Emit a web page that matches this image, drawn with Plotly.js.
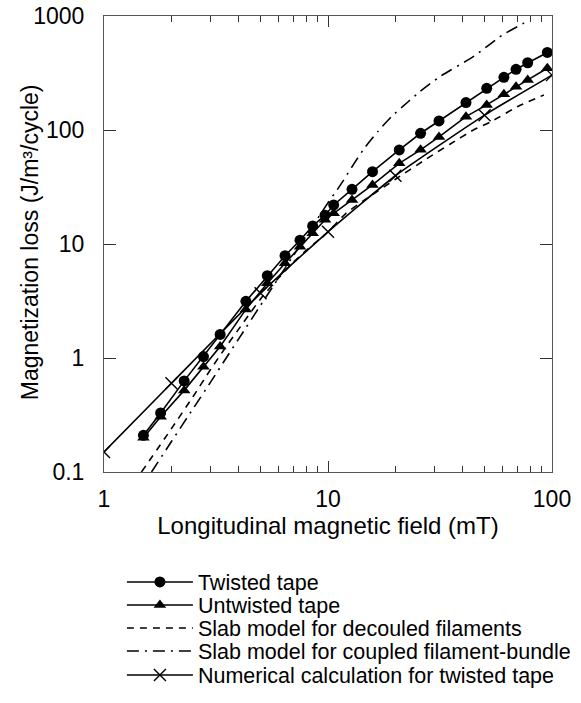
<!DOCTYPE html>
<html>
<head>
<meta charset="utf-8">
<script src="https://cdn.plot.ly/plotly-3.0.1.min.js"></script>
<style>html,body{margin:0;padding:0;background:#fff;}#chart{width:581px;height:703px;}</style>
</head>
<body>
<div id="chart"></div>
<script>
// Measured fields (mT) for the tapes
const fieldTape = [1.5, 1.79, 2.28, 2.78, 3.3, 4.3, 5.36, 6.43, 7.5, 8.54, 9.7, 10.6, 12.8, 15.8, 20.8, 25.9, 31.3, 41.3, 51.1, 61.0, 69.1, 77.9, 95.3];
const lossTwisted = [0.21, 0.33, 0.63, 1.03, 1.61, 3.14, 5.27, 7.9, 10.8, 14.4, 17.9, 22.0, 30.2, 43.1, 66.8, 93.6, 120, 174, 232, 290, 341, 389, 479];
const lossUntwisted = [0.2, 0.305, 0.52, 0.84, 1.26, 2.67, 4.52, 6.77, 9.47, 12.4, 16.3, 18.6, 24.3, 33, 51, 67, 87, 131, 166, 206, 240, 275, 348];

// Slab model, decoupled filaments
const fieldDecoupled = [1.47, 2, 2.5, 3, 3.5, 4, 5, 6, 7, 8, 10, 12, 14.4, 20, 27.6, 35, 44.6, 52.9, 70, 92];
const lossDecoupled = [0.1, 0.24, 0.46, 0.8, 1.25, 1.8, 3.3, 5.0, 6.9, 8.8, 12.8, 18.5, 24, 37, 56, 75, 100, 117, 160, 203];

// Slab model, coupled filament-bundle
const fieldCoupled = [1.63, 2, 2.5, 3, 3.5, 4, 5, 6, 7, 8, 9, 10, 11, 11.7, 13, 14.6, 16.7, 19.2, 22.8, 25.7, 31.6, 44.5, 60, 74.5, 78];
const lossCoupled = [0.1, 0.185, 0.36, 0.62, 0.99, 1.48, 2.9, 5.0, 7.9, 11.8, 16.8, 23, 30, 36, 50, 70, 97, 131, 177, 217, 294, 440, 680, 861, 910];

// Numerical calculation for twisted tape
const fieldNumerical = [1, 2, 5, 10, 20, 50, 100];
const lossNumerical = [0.15, 0.6, 3.7, 12.8, 39.7, 135, 303];

const seriesNames = ["Twisted tape", "Untwisted tape", "Slab model for decouled filaments", "Slab model for coupled filament-bundle", "Numerical calculation for twisted tape"];

const xMajor = [1, 10, 100];
const xMajorText = ["1", "10", "100"];
const xMinor = [2, 3, 4, 5, 6, 7, 8, 9, 20, 30, 40, 50, 60, 70, 80, 90];
const yMajor = [0.1, 1, 10, 100, 1000];
const yMajorText = ["0.1", "1", "10", "100", "1000"];
const yTitle = "Magnetization loss (J/m³/cycle)";

const FONT = "Liberation Sans, Arial, Helvetica, sans-serif";
const legendIds = ["legend", "legend2", "legend3", "legend4", "legend5"];
const legendRowY = [-0.2412, -0.2917, -0.3421, -0.3925, -0.4452];

const traces = [
  {x: fieldTape, y: lossTwisted, name: seriesNames[0], mode: "lines+markers",
   line: {color: "#000", width: 1.6}, marker: {symbol: "circle", size: 11, color: "#000"}},
  {x: fieldTape, y: lossUntwisted, name: seriesNames[1], mode: "lines+markers",
   line: {color: "#000", width: 1.6}, marker: {symbol: "triangle-up", size: 11, color: "#000"}},
  {x: fieldDecoupled, y: lossDecoupled, name: seriesNames[2], mode: "lines",
   line: {color: "#000", width: 1.6, dash: "7px,6px", shape: "spline", smoothing: 0.6}},
  {x: fieldCoupled, y: lossCoupled, name: seriesNames[3], mode: "lines",
   line: {color: "#000", width: 1.6, dash: "12px,6px,2px,6px", shape: "spline", smoothing: 0.6}},
  {x: fieldNumerical, y: lossNumerical, name: seriesNames[4], mode: "lines+markers",
   line: {color: "#000", width: 1.6, shape: "spline", smoothing: 0.5},
   marker: {symbol: "x-thin-open", size: 12, color: "#000", line: {width: 1.4, color: "#000"}}}
];
traces.forEach((t, i) => { t.legend = legendIds[i]; });

const layout = {
  width: 581, height: 703,
  margin: {l: 104, r: 29, t: 16, b: 231, autoexpand: false},
  paper_bgcolor: "#fff", plot_bgcolor: "#fff",
  font: {family: FONT, color: "#000", size: 20},
  showlegend: true,
  xaxis: {
    type: "log", range: [0, 2], showgrid: false, zeroline: false, automargin: false,
    showline: true, linecolor: "#555", linewidth: 1, mirror: "ticks",
    tickmode: "array", tickvals: xMajor, ticktext: xMajorText,
    ticks: "inside", ticklen: 11, tickwidth: 1, tickcolor: "#333",
    ticklabelstandoff: 6,
    minor: {tickmode: "array", tickvals: xMinor, ticks: "inside", ticklen: 6, tickwidth: 1, tickcolor: "#333", showgrid: false},
    tickfont: {size: 23, family: FONT},
    title: {text: "Longitudinal magnetic field (mT)", font: {size: 24, family: FONT}, standoff: 4}
  },
  yaxis: {
    type: "log", range: [-1, 3], showgrid: false, zeroline: false, automargin: false,
    showline: true, linecolor: "#555", linewidth: 1, mirror: "ticks",
    tickmode: "array", tickvals: yMajor, ticktext: yMajorText,
    ticks: "inside", ticklen: 12, tickwidth: 1, tickcolor: "#333",
    ticklabelstandoff: 14,
    tickfont: {size: 23, family: FONT}
  },
  annotations: [{
    text: yTitle, xref: "paper", yref: "paper", x: -0.165, y: 0.504,
    xanchor: "center", yanchor: "middle", textangle: -90, showarrow: false,
    font: {size: 23, family: FONT, color: "#000"}
  }]
};
legendIds.forEach((id, i) => {
  layout[id] = {
    x: 0.04, xanchor: "left", y: legendRowY[i], yanchor: "middle",
    font: {size: 21.5, family: FONT}, bgcolor: "rgba(0,0,0,0)", borderwidth: 0,
    itemwidth: 66
  };
});

Plotly.newPlot("chart", traces, layout, {displayModeBar: false, staticPlot: true});
</script>
</body>
</html>
